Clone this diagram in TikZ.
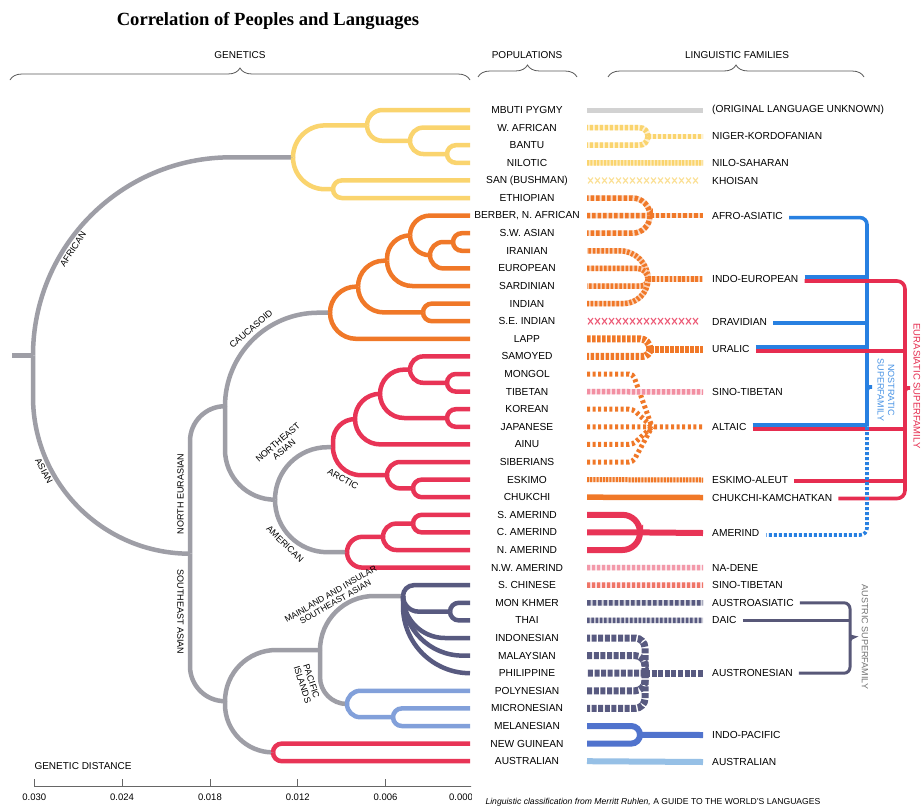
\documentclass[tikz,border=0pt]{standalone}
\usepackage{fontspec}
\setmainfont{Liberation Serif}
\setsansfont{Liberation Sans}
\usetikzlibrary{calc,decorations.pathreplacing}

\definecolor{gene}{RGB}{158,158,166}
\definecolor{afr}{RGB}{250,212,110}
\definecolor{cau}{RGB}{240,120,40}
\definecolor{nea}{RGB}{232,52,86}
\definecolor{sea}{RGB}{88,90,128}
\definecolor{pac}{RGB}{130,160,218}
\definecolor{ipc}{RGB}{80,115,205}
\definecolor{auc}{RGB}{150,192,230}
\definecolor{nostc}{RGB}{40,128,225}
\definecolor{eurc}{RGB}{230,45,80}
\definecolor{ausc}{RGB}{88,88,120}

% branch from a fork point to a child, quarter round then straight
\newcommand\twigcap{999}
\newcommand\twig[3][]{%
  \draw[#1] let \p1=($(#3)-(#2)$),
    \n1={max(0.5pt,min(\twigcap pt,abs(\x1),abs(\y1)))} in
    [rounded corners=\n1] (#2) |- (#3);}

\begin{document}
\begin{tikzpicture}[x=1pt,y=-1pt,
    gen/.style={line width=4.5pt, draw=gene},
    grp/.style={line width=4.5pt, draw=#1},
    pop/.style={font=\sffamily\fontsize{10.2}{12}\selectfont},
    fam/.style={font=\sffamily\fontsize{10.2}{12}\selectfont, anchor=west, inner sep=1pt},
    gtag/.style={font=\sffamily\fontsize{9}{9.6}\selectfont, align=center, inner sep=0pt},
    hdr/.style={font=\sffamily\fontsize{10}{12}\selectfont},
    brc/.style={decorate, decoration={brace, amplitude=12pt}, draw=black!65, line width=0.8pt},
    hatch/.style 2 args={line width=5.5pt, draw=#1, dash pattern=on 3pt off 2pt,
        preaction={draw=#2, solid, line width=5.5pt}},
    crossx/.style={line width=1.1pt, draw=#1},
    nost/.style={line width=3.6pt, draw=nostc},
    eura/.style={line width=3.6pt, draw=eurc},
    aus/.style={line width=3pt, draw=ausc}]

\fill[white] (0,0) rectangle (921,809);
\useasboundingbox (0,0) rectangle (921,809);

% headings
\node[font=\bfseries\fontsize{18.6}{20}\selectfont] (title) at (268,21) {Correlation of Peoples and Languages};
\node[hdr] (hgen) at (240,55) {GENETICS};
\node[hdr] (hpop) at (527,55) {POPULATIONS};
\node[hdr] (hlin) at (737,55) {LINGUISTIC FAMILIES};
\draw[brc] (10,80) -- (470,80);
\draw[brc] (478,77) -- (577,77);
\draw[brc] (608,77) -- (864,77);

% rows
\foreach \i/\p in {0/MBUTI PYGMY, 1/W. AFRICAN, 2/BANTU, 3/NILOTIC, 4/SAN (BUSHMAN),
    5/ETHIOPIAN, 6/{BERBER, N. AFRICAN}, 7/S.W. ASIAN, 8/IRANIAN, 9/EUROPEAN,
    10/SARDINIAN, 11/INDIAN, 12/S.E. INDIAN, 13/LAPP, 14/SAMOYED, 15/MONGOL,
    16/TIBETAN, 17/KOREAN, 18/JAPANESE, 19/AINU, 20/SIBERIANS, 21/ESKIMO,
    22/CHUKCHI, 23/S. AMERIND, 24/C. AMERIND, 25/N. AMERIND, 26/N.W. AMERIND,
    27/S. CHINESE, 28/MON KHMER, 29/THAI, 30/INDONESIAN, 31/MALAYSIAN,
    32/PHILIPPINE, 33/POLYNESIAN, 34/MICRONESIAN, 35/MELANESIAN,
    36/NEW GUINEAN, 37/AUSTRALIAN} {
  \coordinate (L\i) at (470,{110+17.6*\i});
  \coordinate (S\i) at (587,{110+17.6*\i});
  \node[pop] (P\i) at (527,{110+17.6*\i}) {\p};
}

% tree forks
\coordinate (R0s) at (12,355.5);
\coordinate (R0) at (33,355.5);
\coordinate (YR) at (293,157.3);
\coordinate (Y3) at (367,125.4);
\coordinate (Y2) at (410,140.8);
\coordinate (Y1) at (447,154);
\coordinate (Y4) at (333,189.2);
\coordinate (NX) at (190,553.7);
\coordinate (NE) at (225,406.2);
\coordinate (CR) at (330,312.7);
\coordinate (C6) at (358,286.6);
\coordinate (C4) at (387,260.7);
\coordinate (C3) at (410,235.4);
\coordinate (C2) at (430,255.2);
\coordinate (C1) at (453,242);
\coordinate (C5) at (423,312.4);
\coordinate (NA) at (275,499.7);
\coordinate (QR) at (333,447.2);
\coordinate (Q5) at (355,419.1);
\coordinate (Q4) at (380,393.8);
\coordinate (Q3) at (410,369.6);
\coordinate (Q1) at (447,382.8);
\coordinate (Q2) at (447,418);
\coordinate (A2) at (387,475.2);
\coordinate (A1) at (413,488.4);
\coordinate (MR) at (347,552.2);
\coordinate (M2) at (383,536.8);
\coordinate (M1) at (413,523.6);
\coordinate (SE) at (225,701.2);
\coordinate (MP) at (320,650);
\coordinate (DR) at (403,596);
\coordinate (D1) at (450,611.6);
\coordinate (BR) at (347,704);
\coordinate (B1) at (393,717.2);
\coordinate (AU) at (273,752.4);

\draw[gen] (R0s) -- (R0);
\foreach \pa/\ch in {R0/YR, R0/NX, NX/NE, NX/SE, NE/CR, NE/NA, NA/QR, NA/MR,
    SE/MP, SE/AU, MP/DR, MP/BR} {\twig[gen]{\pa}{\ch}}
\foreach \pa/\ch in {YR/Y3, YR/Y4, Y3/L0, Y3/Y2, Y2/L1, Y2/Y1, Y1/L2, Y1/L3,
    Y4/L4, Y4/L5} {\twig[grp=afr]{\pa}{\ch}}
\foreach \pa/\ch in {CR/C6, CR/L13, C6/C4, C6/C5, C4/C3, C4/L10, C3/L6, C3/C2,
    C2/C1, C2/L9, C1/L7, C1/L8, C5/L11, C5/L12} {\twig[grp=cau]{\pa}{\ch}}
\foreach \pa/\ch in {QR/Q5, QR/A2, Q5/Q4, Q5/L19, Q4/Q3, Q4/Q2, Q3/L14, Q3/Q1,
    Q1/L15, Q1/L16, Q2/L17, Q2/L18, A2/L20, A2/A1, A1/L21, A1/L22,
    MR/M2, MR/L26, M2/M1, M2/L25, M1/L23, M1/L24, AU/L36, AU/L37} {\twig[grp=nea]{\pa}{\ch}}
\foreach \pa/\ch in {DR/L27, DR/D1, DR/L30, DR/L31, DR/L32, D1/L28, D1/L29} {\twig[grp=sea]{\pa}{\ch}}
\foreach \pa/\ch in {BR/L33, BR/B1, B1/L34, B1/L35} {\twig[grp=pac]{\pa}{\ch}}

% branch names
\node[gtag, rotate=56] (tafr) at (73,249) {AFRICAN};
\node[gtag, rotate=-62] (tasi) at (44,471) {ASIAN};
\node[gtag, rotate=90] (tneu) at (180.5,494) {NORTH EURASIAN};
\node[gtag, rotate=-90] (tsea) at (180.5,612) {SOUTHEAST ASIAN};
\node[gtag, rotate=41] (tcau) at (251,329) {CAUCASOID};
\node[gtag, rotate=41] (tnea) at (281,446) {NORTHEAST\\ASIAN};
\node[gtag, rotate=-30] (tarc) at (343,479) {ARCTIC};
\node[gtag, rotate=-44] (tame) at (285,544) {AMERICAN};
\node[gtag, rotate=30, font=\sffamily\fontsize{8.6}{9.2}\selectfont] (tmai) at (333,598) {MAINLAND AND INSULAR\\SOUTHEAST ASIAN};
\node[gtag, rotate=-72] (tpac) at (307,683) {PACIFIC\\ISLANDS};

% distance scale
\node[hdr, anchor=west] (gd) at (31,766) {GENETIC DISTANCE};
\begin{scope}
  \clip (0,770) rectangle (471,809);
  \draw[black!60, line width=0.8pt] (34,786) -- (472,786);
  \foreach \xx/\v in {34.3/0.030, 122.1/0.024, 209.9/0.018, 297.7/0.012, 385.5/0.006} {
    \draw[black!60, line width=0.8pt] (\xx,786) -- (\xx,779);
    \node[hdr, font=\sffamily\fontsize{9.5}{11}\selectfont] at (\xx,797.5) {\v};
  }
  \node[hdr, font=\sffamily\fontsize{9.5}{11}\selectfont] (zero) at (461,797.5) {0.000};
\end{scope}

% linguistic families
\node[fam] (unkL) at (711,110) {(ORIGINAL LANGUAGE UNKNOWN)};
\node[fam] (nkL) at (711,136.4) {NIGER-KORDOFANIAN};
\node[fam] (nsL) at (711,162.8) {NILO-SAHARAN};
\node[fam] (khL) at (711,181) {KHOISAN};
\node[fam] (afaL) at (711,215.6) {AFRO-ASIATIC};
\node[fam] (ieL) at (711,279) {INDO-EUROPEAN};
\node[fam] (drL) at (711,322) {DRAVIDIAN};
\node[fam] (urL) at (711,349) {URALIC};
\node[fam] (st1L) at (711,392) {SINO-TIBETAN};
\node[fam] (alL) at (711,426.8) {ALTAIC};
\node[fam] (eaL) at (711,480) {ESKIMO-ALEUT};
\node[fam] (ckL) at (711,497.5) {CHUKCHI-KAMCHATKAN};
\node[fam] (amL) at (711,533) {AMERIND};
\node[fam] (ndL) at (711,567.6) {NA-DENE};
\node[fam] (st2L) at (711,585.2) {SINO-TIBETAN};
\node[fam] (aaL) at (711,602.8) {AUSTROASIATIC};
\node[fam] (daL) at (711,620.4) {DAIC};
\node[fam] (anL) at (711,673.2) {AUSTRONESIAN};
\node[fam] (ipL) at (711,735) {INDO-PACIFIC};
\node[fam] (auL) at (711,762) {AUSTRALIAN};

\draw[line width=5pt, draw=gray!35] (S0) -- ([xshift=-8pt]unkL.west);

\coordinate (nkF) at (648,136.4);
\twig[hatch={afr}{afr!30}]{nkF}{S1}
\twig[hatch={afr}{afr!30}]{nkF}{S2}
\draw[hatch={afr}{afr!30}] (nkF) -- ([xshift=-8pt]nkL.west);
\draw[hatch={afr}{afr!45}, dash pattern=on 2pt off 1.4pt] (S3) -- ([xshift=-8pt]nsL.west);
\foreach \xx in {588,595,...,697}
  \draw[crossx=afr!75] (\xx,177.6) -- (\xx+5,183.4) (\xx,183.4) -- (\xx+5,177.6);

\coordinate (afaF) at (650,215.6);
\foreach \ch in {S5,S6,S7} {\twig[hatch={cau}{cau!25}, dash pattern=on 3.5pt off 2pt]{afaF}{\ch}}
\draw[hatch={cau}{cau!25}, dash pattern=on 3.5pt off 2pt] (afaF) -- ([xshift=-8pt]afaL.west);

\coordinate (ieF) at (648,279);
\foreach \ch in {S8,S9,S10,S11} {\twig[hatch={cau}{cau!35}, dash pattern=on 2.5pt off 1.8pt]{ieF}{\ch}}
\draw[hatch={cau}{cau!35}, dash pattern=on 2.5pt off 1.8pt] (ieF) -- ([xshift=-8pt]ieL.west);

\foreach \xx in {588,595,...,697}
  \draw[crossx=nea!80] (\xx,318) -- (\xx+5,324.4) (\xx,324.4) -- (\xx+5,318);

\coordinate (urF) at (650,349);
\foreach \ch in {S13,S14} {\twig[line width=7pt, draw=cau, dash pattern=on 3.5pt off 1.5pt]{urF}{\ch}}
\draw[line width=7pt, draw=cau, dash pattern=on 3.5pt off 1.5pt] (urF) -- ([xshift=-8pt]urL.west);

\coordinate (alF) at (652,426.8);
\foreach \ch in {S15,S17,S19,S20}
  {\draw[line width=5pt, draw=cau, dash pattern=on 3pt off 2.6pt, rounded corners=4pt]
     (\ch) -- ($(\ch)+(46,0)$) -- (alF);}
\draw[line width=5pt, draw=cau, dash pattern=on 3pt off 2.6pt] (S18) -- ([xshift=-8pt]alL.west);
\draw[hatch={nea!55}{nea!18}] (S16) -- ([xshift=-8pt]st1L.west);

\draw[line width=5pt, draw=cau, dash pattern=on 2pt off 1.2pt, preaction={draw=cau!30, solid, line width=5pt}] (S21) -- ([xshift=-8pt]eaL.west);
\draw[line width=5.5pt, draw=cau] (S22) -- ([xshift=-8pt]ckL.west);

\coordinate (amF) at (640,532.4);
\foreach \ch in {S23,S24,S25} {\twig[line width=6pt, draw=nea]{amF}{\ch}}
\draw[line width=6pt, draw=nea] (amF) -- ([xshift=-8pt]amL.west);

\draw[hatch={nea!50}{nea!12}] (S26) -- ([xshift=-8pt]ndL.west);
\draw[hatch={nea!55!cau!80}{nea!15}] (S27) -- ([xshift=-8pt]st2L.west);
\draw[hatch={sea}{sea!25}, dash pattern=on 3.5pt off 2pt] (S28) -- ([xshift=-8pt]aaL.west);
\draw[hatch={sea}{sea!30}, dash pattern=on 2.5pt off 1.8pt] (S29) -- ([xshift=-8pt]daL.west);

\begin{scope}
  \renewcommand\twigcap{10}
  \coordinate (anF) at (645,673.2);
  \foreach \ch in {S30,S31,S32,S33,S34} {\twig[line width=7pt, draw=sea, dash pattern=on 5pt off 1.6pt]{anF}{\ch}}
  \draw[line width=7pt, draw=sea, dash pattern=on 5pt off 1.6pt] (anF) -- ([xshift=-8pt]anL.west);
\end{scope}

\coordinate (ipF) at (640,734.8);
\foreach \ch in {S35,S36} {\twig[line width=6pt, draw=ipc]{ipF}{\ch}}
\draw[line width=6pt, draw=ipc] (ipF) -- ([xshift=-8pt]ipL.west);
\draw[line width=6pt, draw=auc] (S37) -- ([xshift=-8pt]auL.west);

% superfamilies
\coordinate (nv) at (867,0);
\coordinate (ev) at (905,0);
\coordinate (av) at (850,0);
\draw[nost, rounded corners=7pt] ($(afaL.east)+(5,2)$) -| (867,381) [sharp corners]
  .. controls (867,386) and (868,387) .. (872,387)
  .. controls (868,387) and (867,388) .. (867,393) -- (867,426.6);
\draw[nost] ($(ieL.east)+(5,-2)$) -- ($(ieL.east -| nv)+(0,-2)$);
\draw[nost] ($(drL.east)+(5,1)$) -- ($(drL.east -| nv)+(0,1)$);
\draw[nost] ($(urL.east)+(5,-2)$) -- ($(urL.east -| nv)+(0,-2)$);
\draw[nost] ($(alL.east)+(5,-2)$) -- ($(alL.east -| nv)+(0,-2)$);

\draw[eura, rounded corners=8pt] ($(ieL.east)+(5,2)$) -| (905,382) [sharp corners]
  .. controls (905,387) and (906,388) .. (910,388)
  .. controls (906,388) and (905,389) .. (905,394) [rounded corners=8pt]
  |- ($(ckL.east)+(5,1)$);
\draw[eura] ($(urL.east)+(5,2)$) -- ($(urL.east -| ev)+(2,2)$);
\draw[eura] ($(alL.east)+(5,2)$) -- ($(alL.east -| ev)+(2,2)$);
\draw[eura] ($(eaL.east)+(5,1)$) -- ($(eaL.east -| ev)+(2,1)$);

\draw[nost, dash pattern=on 3pt off 2pt, rounded corners=7pt] (867,427) |- ($(amL.east)+(6,2)$);

\draw[aus, rounded corners=6pt] ($(aaL.east)+(5,0)$) -| (850,631) [sharp corners]
  .. controls (850,635) and (851,637) .. (854,637)
  .. controls (851,637) and (850,639) .. (850,643) [rounded corners=6pt]
  |- ($(anL.east)+(5,0)$);
\draw[aus] ($(daL.east)+(5,0)$) -- (daL.east -| av);

\node[rotate=-90, align=center, text=nostc!85, font=\sffamily\fontsize{9}{10.5}\selectfont] (nsT) at (886,390) {NOSTRATIC\\SUPERFAMILY};
\node[rotate=-90, text=eurc, font=\sffamily\fontsize{9.5}{10}\selectfont] (esT) at (917,386) {EURASIATIC SUPERFAMILY};
\node[rotate=-90, text=black!55, font=\sffamily\fontsize{9}{10}\selectfont] (asT) at (865,637) {AUSTRIC SUPERFAMILY};

% source line
\node[anchor=west, font=\sffamily\fontsize{8.6}{10}\selectfont] (src) at (482,802.5)
  {\textit{Linguistic classification from Merritt Ruhlen,} A GUIDE TO THE WORLD'S LANGUAGES};
\end{tikzpicture}
\end{document}
